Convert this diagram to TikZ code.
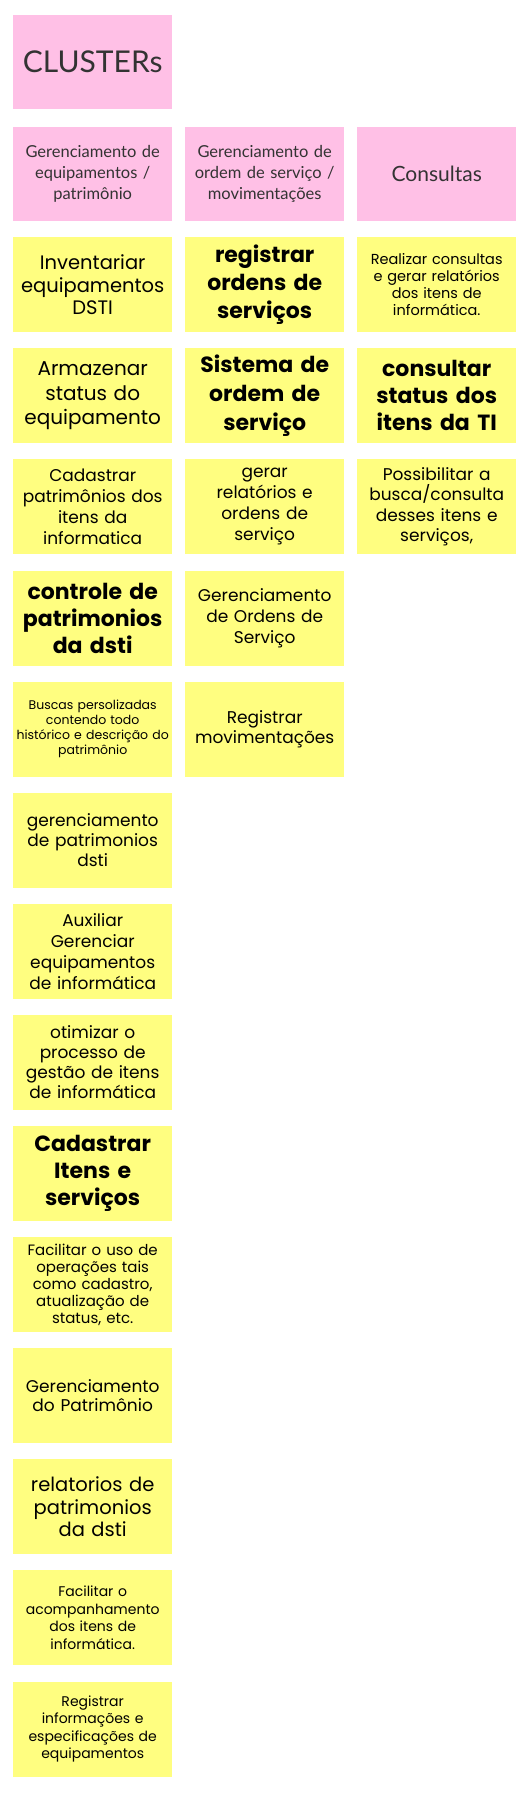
\documentclass[tikz,border=0pt]{standalone}
\usepackage{fontspec}
\setmainfont{Poppins}
\newfontfamily\hdrfont{Lato}
\definecolor{stpink}{RGB}{255,192,230}
\definecolor{styellow}{RGB}{255,254,128}
\definecolor{hdrtext}{RGB}{51,51,51}
\tikzset{
  card/.style={anchor=north west, minimum width=159pt, minimum height=95pt, inner sep=0pt, align=center, text width=157pt},
  pinkcard/.style={card, fill=stpink, text=hdrtext, minimum height=94pt},
  yelcard/.style={card, fill=styellow, text=black},
  fs/.style 2 args={font=\fontsize{#1}{#2}\selectfont},
  fb/.style 2 args={font=\fontsize{#1}{#2}\selectfont\bfseries},
}
\begin{document}
\begin{tikzpicture}[x=1pt,y=-1pt]
\useasboundingbox[fill=white] (0,0) rectangle (523,1793);
% headers
\node[pinkcard, font=\hdrfont\fontsize{30}{34}\selectfont] (clu) at (13,15) {CLUSTERs};
\node[pinkcard, font=\hdrfont\fontsize{16.5}{21}\selectfont] (h1) at (13,127) {Gerenciamento de\\ equipamentos /\\ patrimônio};
\node[pinkcard, font=\hdrfont\fontsize{16.5}{21}\selectfont] (h2) at (185,127) {Gerenciamento de\\ ordem de serviço /\\ movimentações};
\node[pinkcard, font=\hdrfont\fontsize{21}{24}\selectfont] (h3) at (357,127) {Consultas};
% column 1
\node[yelcard, fs={19.5}{22.7}] (a1) at (13,237) {Inventariar\\ equipamentos\\ DSTI};
\node[yelcard, fs={20}{24.7}] (a2) at (13,348.1) {Armazenar\\ status do\\ equipamento};
\node[yelcard, fs={17}{21}] (a3) at (13,459.2) {Cadastrar\\ patrimônios dos\\ itens da\\ informatica};
\node[yelcard, fb={22}{27}] (a4) at (13,570.3) {controle de\\ patrimonios\\ da dsti};
\node[yelcard, fs={12.5}{15}] (a5) at (13,681.4) {Buscas persolizadas\\ contendo todo\\ histórico e descrição do\\ patrimônio};
\node[yelcard, fs={17}{20}] (a6) at (13,792.5) {gerenciamento\\ de patrimonios\\ dsti};
\node[yelcard, fs={17}{21}] (a7) at (13,903.6) {Auxiliar\\ Gerenciar\\ equipamentos\\ de informática};
\node[yelcard, fs={17}{20}] (a8) at (13,1014.7) {otimizar o\\ processo de\\ gestão de itens\\ de informática};
\node[yelcard, fb={22}{27}] (a9) at (13,1125.8) {Cadastrar\\ Itens e\\ serviços};
\node[yelcard, fs={15}{17}] (a10) at (13,1236.9) {Facilitar o uso de\\ operações tais\\ como cadastro,\\ atualização de\\ status, etc.};
\node[yelcard, fs={17}{19.5}] (a11) at (13,1348) {Gerenciamento\\ do Patrimônio};
\node[yelcard, fs={19.5}{22.5}] (a12) at (13,1459.1) {relatorios de\\ patrimonios\\ da dsti};
\node[yelcard, fs={14}{17.5}] (a13) at (13,1570.2) {Facilitar o\\ acompanhamento\\ dos itens de\\ informática.};
\node[yelcard, fs={14}{17.5}] (a14) at (13,1681.3) {Registrar\\ informações e\\ especificações de\\ equipamentos};
% column 2
\node[yelcard, fb={22}{28}] (b1) at (185,237) {registrar\\ ordens de\\ serviços};
\node[yelcard, fb={22}{28.7}] (b2) at (185,348.1) {Sistema de\\ ordem de\\ serviço};
\node[yelcard, fs={17}{21}] (b3) at (185,459.2) {gerar\\ relatórios e\\ ordens de\\ serviço};
\node[yelcard, fs={17}{20.8}] (b4) at (185,570.3) {Gerenciamento\\ de Ordens de\\ Serviço};
\node[yelcard, fs={17}{20}] (b5) at (185,681.4) {Registrar\\ movimentações};
% column 3
\node[yelcard, fs={14.5}{17}] (c1) at (357,237) {Realizar consultas\\ e gerar relatórios\\ dos itens de\\ informática.};
\node[yelcard, fb={22}{27}] (c2) at (357,348.1) {consultar\\ status dos\\ itens da TI};
\node[yelcard, fs={17}{20.5}] (c3) at (357,459.2) {Possibilitar a\\ busca/consulta\\ desses itens e\\ serviços,};
\end{tikzpicture}
\end{document}
